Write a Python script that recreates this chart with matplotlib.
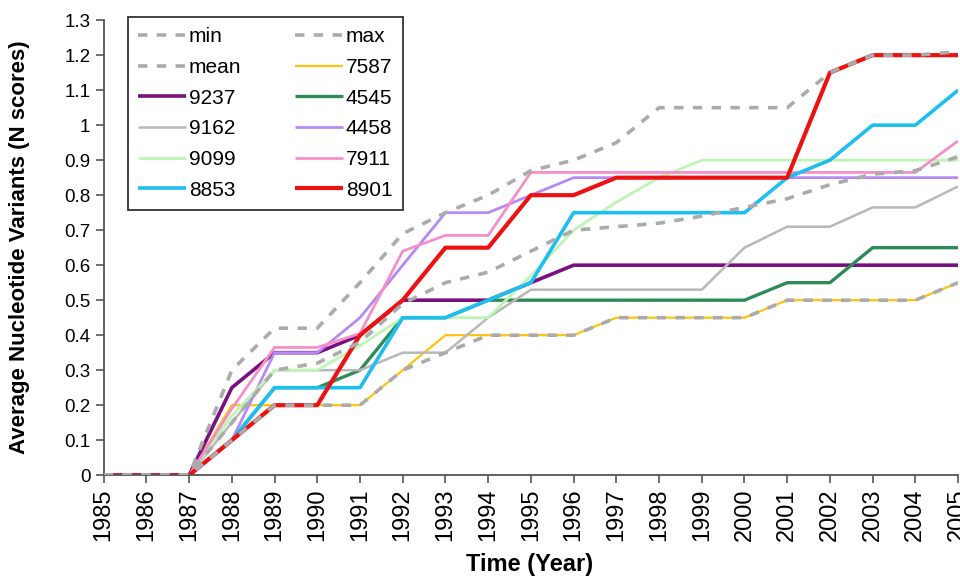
import matplotlib
matplotlib.use("Agg")
import matplotlib.pyplot as plt
from matplotlib.ticker import FuncFormatter, MultipleLocator

plt.rcParams['font.family'] = ['Liberation Sans', 'DejaVu Sans']

years = list(range(1985, 2006))

# reference curves (dashed grey)
min_vals  = [0, 0, 0, 0.10, 0.20, 0.20, 0.20, 0.30, 0.35, 0.40, 0.40, 0.40, 0.45, 0.45, 0.45, 0.45, 0.50, 0.50, 0.50, 0.50, 0.55]
max_vals  = [0, 0, 0, 0.30, 0.42, 0.42, 0.55, 0.69, 0.75, 0.80, 0.87, 0.90, 0.95, 1.05, 1.05, 1.05, 1.05, 1.15, 1.20, 1.20, 1.21]
mean_vals = [0, 0, 0, 0.15, 0.30, 0.32, 0.38, 0.49, 0.55, 0.58, 0.64, 0.70, 0.71, 0.72, 0.74, 0.765, 0.79, 0.83, 0.86, 0.87, 0.91]

# individual strains
s7587 = [0, 0, 0, 0.20, 0.20, 0.20, 0.20, 0.30, 0.40, 0.40, 0.40, 0.40, 0.45, 0.45, 0.45, 0.45, 0.50, 0.50, 0.50, 0.50, 0.55]
s9237 = [0, 0, 0, 0.25, 0.35, 0.35, 0.40, 0.50, 0.50, 0.50, 0.55, 0.60, 0.60, 0.60, 0.60, 0.60, 0.60, 0.60, 0.60, 0.60, 0.60]
s4545 = [0, 0, 0, 0.10, 0.25, 0.25, 0.30, 0.45, 0.45, 0.50, 0.50, 0.50, 0.50, 0.50, 0.50, 0.50, 0.55, 0.55, 0.65, 0.65, 0.65]
s9162 = [0, 0, 0, 0.15, 0.30, 0.30, 0.30, 0.35, 0.35, 0.45, 0.53, 0.53, 0.53, 0.53, 0.53, 0.65, 0.71, 0.71, 0.765, 0.765, 0.825]
s4458 = [0, 0, 0, 0.10, 0.35, 0.35, 0.45, 0.60, 0.75, 0.75, 0.80, 0.85, 0.85, 0.85, 0.85, 0.85, 0.85, 0.85, 0.85, 0.85, 0.85]
s9099 = [0, 0, 0, 0.17, 0.30, 0.30, 0.37, 0.45, 0.45, 0.45, 0.57, 0.70, 0.78, 0.85, 0.90, 0.90, 0.90, 0.90, 0.90, 0.90, 0.90]
s7911 = [0, 0, 0, 0.19, 0.365, 0.365, 0.405, 0.64, 0.685, 0.685, 0.865, 0.865, 0.865, 0.865, 0.865, 0.865, 0.865, 0.865, 0.865, 0.865, 0.955]
s8853 = [0, 0, 0, 0.10, 0.25, 0.25, 0.25, 0.45, 0.45, 0.50, 0.55, 0.75, 0.75, 0.75, 0.75, 0.75, 0.85, 0.90, 1.00, 1.00, 1.10]
s8901 = [0, 0, 0, 0.10, 0.20, 0.20, 0.40, 0.50, 0.65, 0.65, 0.80, 0.80, 0.85, 0.85, 0.85, 0.85, 0.85, 1.15, 1.20, 1.20, 1.20]

strains = ['7587', '9237', '4545', '9162', '4458', '9099', '7911', '8853', '8901']
strain_vals = [s7587, s9237, s4545, s9162, s4458, s9099, s7911, s8853, s8901]
strain_colors = ['#FFC20E', '#7A1080', '#2E8B57', '#B8B8B8', '#B58AF5', '#BDF5B5', '#F68FC8', '#1DBFEF', '#EE1111']
strain_widths = [1.6, 2.6, 2.4, 1.8, 2.0, 2.0, 2.0, 2.6, 3.0]

fig = plt.figure(figsize=(9.6, 5.76), dpi=100)
ax = fig.add_axes([0.108, 0.175, 0.89, 0.79])

lines = {}
for name, vals, c, w in zip(strains, strain_vals, strain_colors, strain_widths):
    lines[name], = ax.plot(years, vals, color=c, lw=w, label=name, zorder=2, solid_capstyle='butt')

dash_style = dict(color='#ABABAB', lw=2.6, linestyle=(0, (2.6, 2.6)), zorder=3)
lines['min'], = ax.plot(years, min_vals, label='min', **dash_style)
lines['max'], = ax.plot(years, max_vals, label='max', **dash_style)
lines['mean'], = ax.plot(years, mean_vals, label='mean', **dash_style)

ax.set_xlim(1985, 2005)
ax.set_ylim(0, 1.3)
ax.xaxis.set_major_locator(MultipleLocator(1))
ax.yaxis.set_major_locator(MultipleLocator(0.1))
ax.yaxis.set_major_formatter(FuncFormatter(lambda v, p: '{:g}'.format(round(v, 1))))
ax.tick_params(axis='x', labelrotation=90, labelsize=17, length=6, width=1.2, color='#555555', direction='out')
ax.tick_params(axis='y', labelsize=13.5, length=6, width=1.2, color='#555555', direction='out')

for s in ['top', 'right']:
    ax.spines[s].set_visible(False)
for s in ['left', 'bottom']:
    ax.spines[s].set_color('#555555')
    ax.spines[s].set_linewidth(1.3)

ax.set_xlabel('Time (Year)', fontsize=17, fontweight='bold')
ax.set_ylabel('Average Nucleotide Variants (N scores)', fontsize=16, fontweight='bold')
ax.xaxis.set_label_coords(0.499, -0.172)
ax.yaxis.set_label_coords(-0.086, 0.5)

# legend order: column-major for ncol=2
order = ['min', 'mean', '9237', '9162', '9099', '8853',
         'max', '7587', '4545', '4458', '7911', '8901']
leg = ax.legend([lines[k] for k in order], order, ncol=2, loc='upper left',
                bbox_to_anchor=(0.028, 1.007), borderaxespad=0, fontsize=15,
                handlelength=2.3, handletextpad=0.15, columnspacing=2.55,
                labelspacing=0.56, fancybox=False, framealpha=1,
                edgecolor='#333333', borderpad=0.5)
leg.get_frame().set_linewidth(1.3)

fig.savefig('out.png', dpi=100)
